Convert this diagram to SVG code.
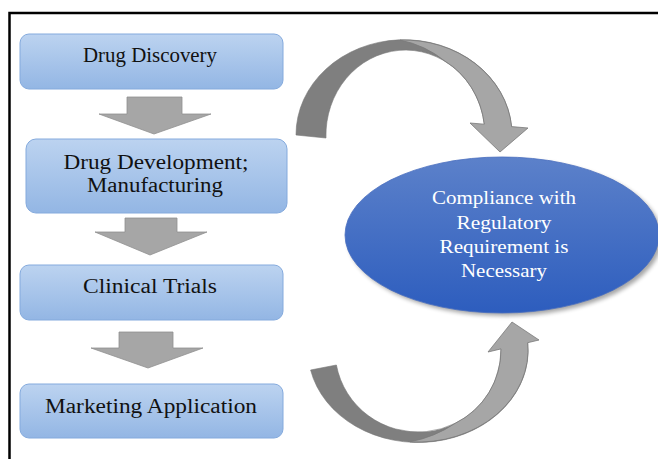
<svg xmlns="http://www.w3.org/2000/svg" width="658" height="459" viewBox="0 0 658 459">
<defs>
<linearGradient id="boxg" x1="0" y1="0" x2="0" y2="1">
<stop offset="0" stop-color="#bcd3f0"/>
<stop offset="1" stop-color="#93b6e4"/>
</linearGradient>
<linearGradient id="ellg" x1="0" y1="0" x2="0" y2="1">
<stop offset="0" stop-color="#5c81ca"/>
<stop offset="1" stop-color="#2d5dbe"/>
</linearGradient>
<filter id="blur" x="-10%" y="-10%" width="120%" height="130%">
<feGaussianBlur stdDeviation="2"/>
</filter>
</defs>
<style>
.box{fill:url(#boxg);stroke:#84aadd;stroke-width:1}
.down{fill:#a6a6a6;stroke:#909090;stroke-width:0.8}
.lbl{font-family:"Liberation Serif",serif;font-size:20px;fill:#111;text-anchor:middle}
.elbl{font-family:"Liberation Serif",serif;font-size:19px;fill:#fff;text-anchor:middle}
.dark{fill:#7f7f7f;stroke:#777;stroke-width:0.6}
.light{fill:#a6a6a6;stroke:#7a7a7a;stroke-width:0.8}
</style>
<rect width="658" height="459" fill="#fff"/>
<g id="frame" fill="none" stroke="#000" stroke-width="2.5">
<path d="M9.5,459 V13 H658"/>
</g>
<g id="drug-discovery">
<rect class="box" x="20" y="34" width="263" height="55" rx="9"/>
<text class="lbl" font-family="Liberation Serif, serif" x="150" y="62" textLength="134" lengthAdjust="spacingAndGlyphs">Drug Discovery</text>
</g>
<g id="drug-development">
<rect class="box" x="26" y="139" width="261" height="74" rx="10"/>
<text class="lbl" font-family="Liberation Serif, serif" x="156" y="169" textLength="185" lengthAdjust="spacingAndGlyphs">Drug Development;</text>
<text class="lbl" font-family="Liberation Serif, serif" x="155" y="192" textLength="136" lengthAdjust="spacingAndGlyphs">Manufacturing</text>
</g>
<g id="clinical-trials">
<rect class="box" x="20" y="265" width="263" height="55" rx="9"/>
<text class="lbl" font-family="Liberation Serif, serif" x="150" y="293" textLength="134" lengthAdjust="spacingAndGlyphs">Clinical Trials</text>
</g>
<g id="marketing-application">
<rect class="box" x="20" y="384" width="263" height="54" rx="9"/>
<text class="lbl" font-family="Liberation Serif, serif" x="151" y="413" textLength="212" lengthAdjust="spacingAndGlyphs">Marketing Application</text>
</g>
<g id="compliance">
<ellipse cx="505" cy="238" rx="157" ry="78" fill="#000" opacity="0.35" filter="url(#blur)"/>
<ellipse cx="502" cy="235" rx="157" ry="78" fill="url(#ellg)" stroke="#4a6fbf" stroke-width="0.8"/>
<text class="elbl" font-family="Liberation Serif, serif" x="504" y="204" textLength="144" lengthAdjust="spacingAndGlyphs">Compliance with</text>
<text class="elbl" font-family="Liberation Serif, serif" x="504" y="228.5" textLength="95" lengthAdjust="spacingAndGlyphs">Regulatory</text>
<text class="elbl" font-family="Liberation Serif, serif" x="504" y="253" textLength="129" lengthAdjust="spacingAndGlyphs">Requirement is</text>
<text class="elbl" font-family="Liberation Serif, serif" x="504" y="277" textLength="86" lengthAdjust="spacingAndGlyphs">Necessary</text>
</g>
<g id="connectors">
<path class="down" d="M127,97 H182 V114 H211 L154,134 L99,114 H127 Z"/>
<path class="down" d="M125,218 H177 V232 H207 L150,255 L95,232 H125 Z"/>
<path class="down" d="M119,332 H173 V348 H203 L148,368 L91,348 H119 Z"/>
<path class="dark" d="M296,135 A108,95 0 0 1 511.6,126.6 L484.3,124.2 A79.5,85 0 0 0 326,138 Z"/>
<path class="light" d="M400,40.1 A108,95 0 0 1 511.6,126.6 L528,128 L500,152 L470,123 L484.3,124.2 A79.5,85 0 0 0 445,61.2 Q425,45 400,40.1 Z"/>
<path class="dark" d="M310.6,370 A110,92 0 0 0 527.7,342.7 L501,348.9 A83,82 0 0 1 336.4,365 Z"/>
<path class="light" d="M410,441.8 A110,92 0 0 0 527.7,342.7 L539,340 L512,322 L488,352 L501,348.9 A83,82 0 0 1 455,423.4 Q435,437 410,441.8 Z"/>
</g>
</svg>
